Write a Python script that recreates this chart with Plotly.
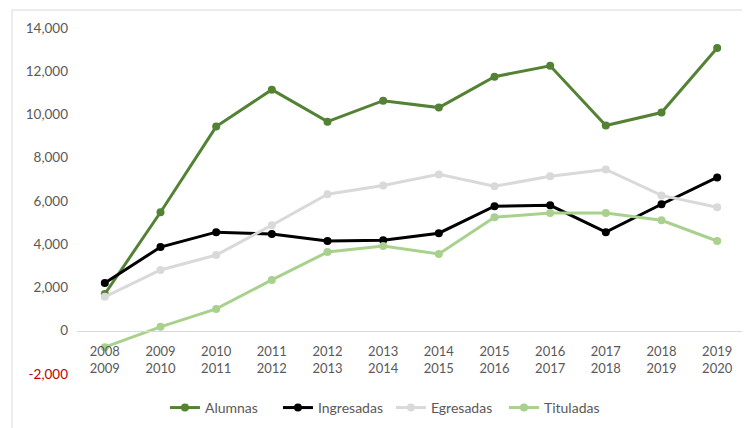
import plotly.graph_objects as go

categories = ["2008<br>2009", "2009<br>2010", "2010<br>2011", "2011<br>2012", "2012<br>2013",
              "2013<br>2014", "2014<br>2015", "2015<br>2016", "2016<br>2017", "2017<br>2018",
              "2018<br>2019", "2019<br>2020"]

alumnas = [1700, 5480, 9440, 11150, 9670, 10640, 10320, 11750, 12250, 9490, 10090, 13080]
ingresadas = [2210, 3870, 4560, 4470, 4150, 4190, 4510, 5760, 5800, 4560, 5850, 7090]
egresadas = [1570, 2810, 3500, 4880, 6310, 6720, 7230, 6680, 7140, 7460, 6260, 5710]
tituladas = [-760, 180, 1010, 2350, 3640, 3920, 3550, 5250, 5440, 5440, 5110, 4150]

y_ticks = [-2000, 0, 2000, 4000, 6000, 8000, 10000, 12000, 14000]

series = [
    ("Alumnas", alumnas, "#548235"),
    ("Ingresadas", ingresadas, "#000000"),
    ("Egresadas", egresadas, "#d9d9d9"),
    ("Tituladas", tituladas, "#a9d18e"),
]

FONT = "Lato"
GRAY = "#595959"

fig = go.Figure()
for name, vals, color in series:
    fig.add_trace(go.Scatter(
        x=categories, y=vals, name=name, mode="lines+markers",
        line=dict(color=color, width=3),
        marker=dict(color=color, size=8, symbol="circle"),
    ))

ymin, ymax = y_ticks[0], y_ticks[-1]
tick_text = []
for v in y_ticks:
    s = f"{v:,}"
    if v < 0:
        s = f'<span style="color:#c00000">{s}</span>'
    tick_text.append(s)

W, H = 742, 420
L, R, T, B = 69, 5, 20, 53
pw, ph = W - L - R, H - T - B

fig.update_layout(
    width=W, height=H,
    margin=dict(l=L, r=R, t=T, b=B),
    paper_bgcolor="white", plot_bgcolor="white",
    font=dict(family=FONT, size=13, color=GRAY),
    showlegend=True,
    legend=dict(orientation="h", x=0.47, xanchor="center", y=-0.095, yanchor="middle",
                font=dict(family=FONT, size=14, color=GRAY), itemwidth=30,
                entrywidth=68, entrywidthmode="pixels",
                bgcolor="rgba(0,0,0,0)"),
    xaxis=dict(
        type="category", range=[-0.5, len(categories) - 0.5],
        anchor="free", position=(0 - ymin) / (ymax - ymin),
        showline=True, linecolor="#d9d9d9", linewidth=1,
        showgrid=False, zeroline=False, ticks="",
        ticklabelstandoff=9,
        tickfont=dict(family=FONT, size=13, color=GRAY),
    ),
    yaxis=dict(
        range=[ymin, ymax], tickvals=y_ticks, ticktext=tick_text,
        showgrid=False, zeroline=False, showline=False, ticks="",
        ticklabelstandoff=8,
        tickfont=dict(family=FONT, size=13.5, color=GRAY),
    ),
    shapes=[dict(type="rect", xref="paper", yref="paper",
                 x0=(4 - L) / pw, x1=(760 - L) / pw,
                 y0=-(H + 20 - (T + ph)) / ph, y1=(T + ph - 2) / ph,
                 line=dict(color="#d9d9d9", width=1), fillcolor="rgba(0,0,0,0)",
                 layer="below")],
)

fig.write_html("out.html")
